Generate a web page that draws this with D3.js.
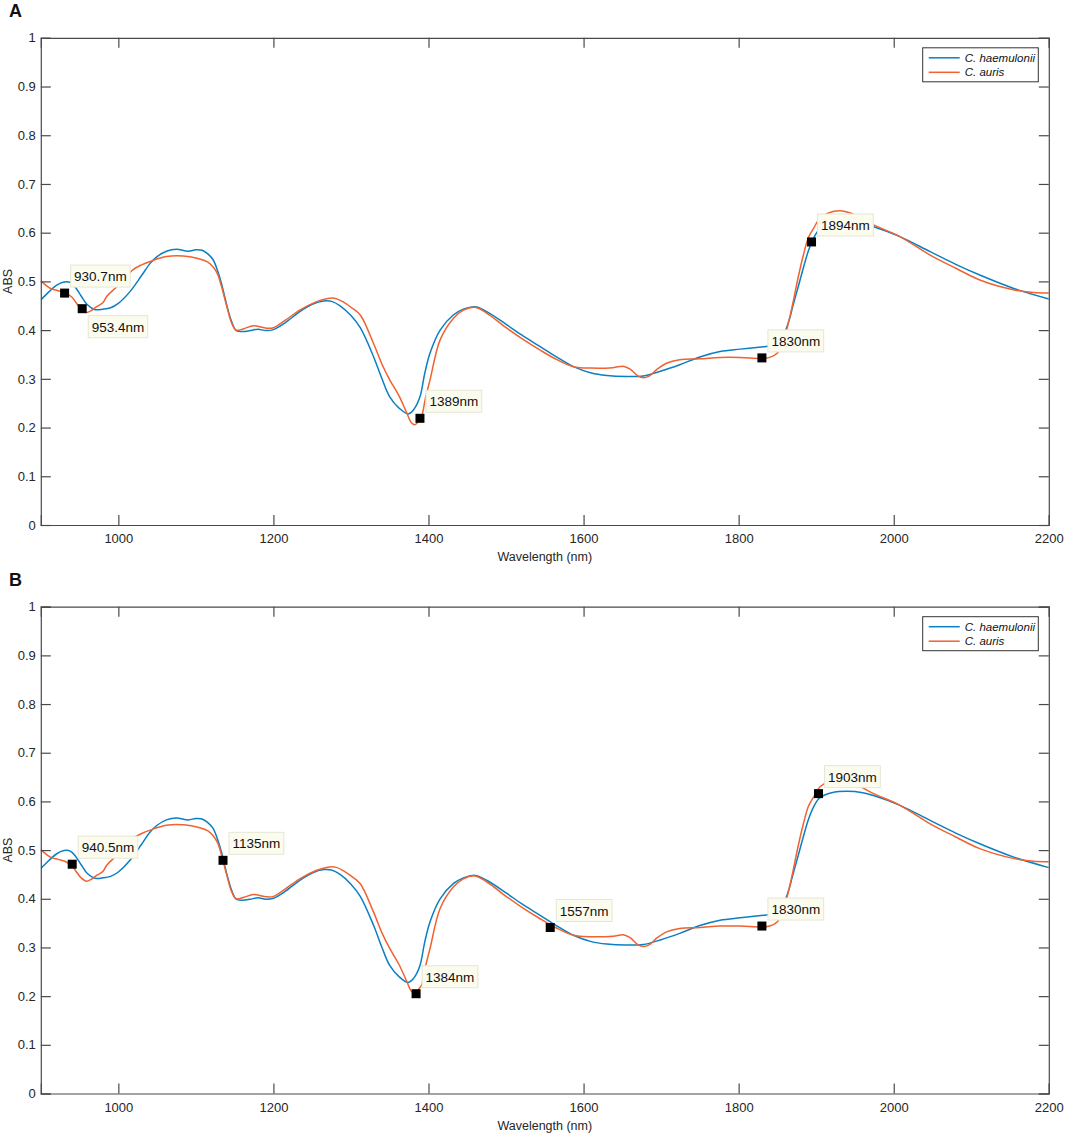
<!DOCTYPE html>
<html>
<head>
<meta charset="utf-8">
<script src="https://cdn.jsdelivr.net/npm/d3@7"></script>
<style>
  body { margin: 0; background: #fff; }
  svg { display: block; }
  text { font-family: "Liberation Sans", Arial, sans-serif; }
</style>
</head>
<body>
<svg id="chart" width="1065" height="1133"></svg>
<script>
// ---------- DATA ----------
const nmHaemulonii = [900,910,920,930,938,945,952,960,970,980,990,1000,1015,1030,1041,1050,1062,1075,1090,1100,1108,1115,1122,1128,1133,1140,1146,1152,1160,1170,1180,1190,1200,1215,1234,1250,1265,1275,1286,1300,1312,1329,1340,1350,1362,1374,1381,1389,1395,1402,1415,1432,1445,1460,1475,1501,1520,1544,1565,1587,1610,1630,1655,1677,1700,1724,1750,1776,1802,1832,1842,1850,1858,1865,1870,1877,1883,1890,1897,1905,1920,1940,1960,1974,2008,2047,2080,2111,2154,2200];
const absHaemulonii = [0.462,0.478,0.492,0.499,0.498,0.487,0.470,0.452,0.442,0.443,0.446,0.455,0.479,0.512,0.537,0.551,0.562,0.566,0.562,0.565,0.564,0.557,0.545,0.522,0.496,0.450,0.418,0.399,0.397,0.399,0.402,0.399,0.401,0.415,0.438,0.453,0.460,0.459,0.450,0.430,0.405,0.346,0.300,0.263,0.240,0.228,0.237,0.263,0.310,0.353,0.400,0.431,0.443,0.448,0.438,0.411,0.390,0.366,0.345,0.325,0.312,0.307,0.305,0.306,0.316,0.329,0.345,0.356,0.361,0.366,0.368,0.372,0.390,0.420,0.450,0.490,0.525,0.563,0.590,0.608,0.618,0.621,0.618,0.612,0.592,0.561,0.535,0.513,0.486,0.464];

const nmAuris = [900,912,922,931,940,946,952,959,965,972,980,985,996,1005,1019,1030,1041,1062,1084,1105,1115,1122,1128,1133,1140,1146,1152,1162,1174,1191,1200,1215,1234,1255,1270,1280,1290,1300,1312,1329,1340,1350,1362,1372,1378,1383,1388,1391,1396,1402,1415,1432,1445,1460,1475,1501,1520,1544,1565,1587,1610,1638,1651,1660,1670,1677,1685,1695,1707,1724,1750,1776,1802,1830,1840,1850,1858,1865,1870,1877,1883,1890,1897,1905,1915,1931,1945,1960,1974,2008,2047,2080,2111,2154,2180,2200];
const absAuris = [0.501,0.486,0.481,0.477,0.468,0.455,0.443,0.436,0.440,0.448,0.456,0.469,0.486,0.500,0.524,0.534,0.541,0.551,0.552,0.546,0.540,0.530,0.515,0.490,0.448,0.415,0.400,0.403,0.409,0.404,0.405,0.420,0.441,0.458,0.465,0.465,0.458,0.447,0.431,0.373,0.330,0.298,0.265,0.230,0.210,0.206,0.216,0.222,0.260,0.298,0.380,0.424,0.441,0.447,0.435,0.404,0.383,0.359,0.340,0.325,0.322,0.323,0.326,0.320,0.306,0.302,0.306,0.320,0.332,0.339,0.341,0.344,0.344,0.342,0.344,0.353,0.380,0.420,0.456,0.510,0.551,0.590,0.610,0.630,0.640,0.645,0.640,0.628,0.616,0.592,0.554,0.527,0.503,0.483,0.477,0.476];

const seriesNames = ["C. haemulonii", "C. auris"];
const xTickValues = [1000,1200,1400,1600,1800,2000,2200];
const yTickValues = [0,0.1,0.2,0.3,0.4,0.5,0.6,0.7,0.8,0.9,1];

// data tips
const tipsA_nm  = [930.7, 953.4, 1389, 1830, 1894];
const tipsA_abs = [0.476, 0.444, 0.219, 0.343, 0.581];
const tipsA_label = ["930.7nm", "953.4nm", "1389nm", "1830nm", "1894nm"];
const tipsA_below = [false, true, false, false, false];

const tipsB_nm  = [940.5, 1135, 1384, 1557, 1830, 1903];
const tipsB_abs = [0.471, 0.479, 0.205, 0.341, 0.344, 0.616];
const tipsB_label = ["940.5nm", "1135nm", "1384nm", "1557nm", "1830nm", "1903nm"];
const tipsB_below = [false, false, false, false, false, false];

// ---------- DRAW ----------
const svg = d3.select("#chart");
const colors = ["#0a7fc4", "#f0622f"];
const axisColor = "#4a4a4a";
const textColor = "#262626";

const x = d3.scaleLinear().domain([900, 2200]).range([40.8, 1048.8]);

const seriesData = [
  nmHaemulonii.map((d, i) => ({ nm: d, v: absHaemulonii[i] })),
  nmAuris.map((d, i) => ({ nm: d, v: absAuris[i] }))
];

function drawPanel(letter, top, bottom, tipsNm, tipsAbs, tipsLabel, tipsBelow) {
  const y = d3.scaleLinear().domain([0, 1]).range([bottom, top]);
  const g = svg.append("g");
  const [x0, x1] = x.range();

  // panel letter
  g.append("text").attr("x", 9).attr("y", top - 20.5)
    .attr("font-size", 18).attr("font-weight", "bold").attr("fill", "#111")
    .text(letter);

  // clip
  const clipId = "clip" + letter;
  svg.append("clipPath").attr("id", clipId).append("rect")
    .attr("x", x0).attr("y", top).attr("width", x1 - x0).attr("height", bottom - top);

  // lines
  const line = d3.line().x(d => x(d.nm)).y(d => y(d.v)).curve(d3.curveCatmullRom.alpha(0.5));
  seriesData.forEach((sd, i) => {
    g.append("path").datum(sd)
      .attr("clip-path", `url(#${clipId})`)
      .attr("fill", "none").attr("stroke", colors[i]).attr("stroke-width", 1.5)
      .attr("d", line);
  });

  // axes (inward ticks, mirrored)
  const tl = 10;
  const bottomAxis = d3.axisBottom(x).tickValues(xTickValues).tickSize(-tl).tickPadding(9).tickFormat(d3.format("d"));
  const topAxis = d3.axisTop(x).tickValues(xTickValues).tickSize(-tl).tickFormat("");
  const leftAxis = d3.axisLeft(y).tickValues(yTickValues).tickSize(-tl).tickPadding(5).tickFormat(d => d3.format("~g")(d));
  const rightAxis = d3.axisRight(y).tickValues(yTickValues).tickSize(-tl).tickFormat("");

  const styleAxis = sel => {
    sel.select(".domain").attr("stroke", axisColor).attr("stroke-width", 1.2);
    sel.selectAll(".tick line").attr("stroke", axisColor).attr("stroke-width", 1.2);
    sel.selectAll(".tick text").attr("fill", textColor).attr("font-size", 13)
      .attr("font-family", "Liberation Sans, Arial, sans-serif");
  };
  g.append("g").attr("transform", `translate(0,${bottom})`).call(bottomAxis).call(styleAxis);
  g.append("g").attr("transform", `translate(0,${top})`).call(topAxis).call(styleAxis);
  g.append("g").attr("transform", `translate(${x0},0)`).call(leftAxis).call(styleAxis);
  g.append("g").attr("transform", `translate(${x1},0)`).call(rightAxis).call(styleAxis);

  // axis titles
  g.append("text").attr("x", (x0 + x1) / 2).attr("y", bottom + 36)
    .attr("text-anchor", "middle").attr("font-size", 12.5).attr("fill", textColor)
    .text("Wavelength (nm)");
  g.append("text").attr("transform", `translate(12,${(top + bottom) / 2}) rotate(-90)`)
    .attr("text-anchor", "middle").attr("font-size", 12.5).attr("fill", textColor)
    .text("ABS");

  // legend
  const lg = g.append("g").attr("transform", `translate(922.7,${top + 10})`);
  lg.append("rect").attr("width", 115.6).attr("height", 34).attr("fill", "#fff")
    .attr("stroke", "#333").attr("stroke-width", 1);
  seriesNames.forEach((name, i) => {
    const ly = 10 + i * 14.5;
    lg.append("line").attr("x1", 6).attr("x2", 37).attr("y1", ly).attr("y2", ly)
      .attr("stroke", colors[i]).attr("stroke-width", 1.5);
    lg.append("text").attr("x", 42).attr("y", ly + 4).attr("font-size", 11.5)
      .attr("font-style", "italic").attr("fill", "#111").text(name);
  });

  // data tips
  tipsNm.forEach((nm, i) => {
    const px = x(nm), py = y(tipsAbs[i]);
    const tg = g.append("g");
    const t = tg.append("text").attr("font-size", 13.5).attr("fill", "#111").text(tipsLabel[i]);
    const w = t.node().getComputedTextLength() + 7;
    const h = 22;
    const bx = px + 6;
    const by = tipsBelow[i] ? py + 7 : py - 6 - h;
    tg.insert("rect", "text").attr("x", bx).attr("y", by).attr("width", w).attr("height", h)
      .attr("fill", "#fbfbee").attr("stroke", "#e6e6d6").attr("stroke-width", 1);
    t.attr("x", bx + 3.5).attr("y", by + 16);
    g.append("rect").attr("x", px - 4.5).attr("y", py - 4.5).attr("width", 9).attr("height", 9)
      .attr("fill", "#000");
  });
}

drawPanel("A", 37.8, 525, tipsA_nm, tipsA_abs, tipsA_label, tipsA_below);
drawPanel("B", 606.7, 1093.5, tipsB_nm, tipsB_abs, tipsB_label, tipsB_below);
</script>
</body>
</html>
